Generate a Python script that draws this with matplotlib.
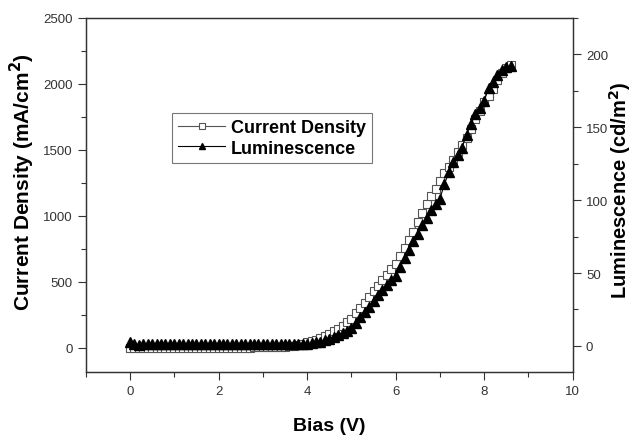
import matplotlib
matplotlib.use("Agg")
import matplotlib.pyplot as plt
from matplotlib.ticker import MultipleLocator

plt.rcParams['font.family'] = ['Liberation Sans', 'DejaVu Sans']

bias = [0.0, 0.1, 0.2, 0.3, 0.4, 0.5, 0.6, 0.7, 0.8, 0.9,
        1.0, 1.1, 1.2, 1.3, 1.4, 1.5, 1.6, 1.7, 1.8, 1.9,
        2.0, 2.1, 2.2, 2.3, 2.4, 2.5, 2.6, 2.7, 2.8, 2.9,
        3.0, 3.1, 3.2, 3.3, 3.4, 3.5, 3.6, 3.7, 3.8, 3.9,
        4.0, 4.1, 4.2, 4.3, 4.4, 4.5, 4.6, 4.7, 4.8, 4.9,
        5.0, 5.1, 5.2, 5.3, 5.4, 5.5, 5.6, 5.7, 5.8, 5.9,
        6.0, 6.1, 6.2, 6.3, 6.4, 6.5, 6.6, 6.7, 6.8, 6.9,
        7.0, 7.1, 7.2, 7.3, 7.4, 7.5, 7.6, 7.7, 7.8, 7.9,
        8.0, 8.1, 8.2, 8.3, 8.4, 8.5, 8.6]

current = [0, 0, 0, 0, 0, 0, 0, 0, 0, 0,
           0, 0, 0, 0, 0, 0, 0, 0, 0, 0,
           0, 0, 0, 0, 1, 1, 1, 1, 2, 2,
           2, 3, 4, 5, 7, 9, 12, 16, 22, 30,
           40, 50, 62, 75, 90, 106, 125, 145, 168, 193,
           220, 260, 300, 340, 385, 430, 470, 515, 555, 595,
           636, 695, 755, 815, 880, 950, 1020, 1090, 1150, 1205,
           1265, 1325, 1370, 1420, 1480, 1540, 1590, 1655, 1730, 1795,
           1860, 1905, 1960, 2030, 2080, 2120, 2140]

lumin = [2.5, 1.5, 0.5, 1.0, 1.5, 1.5, 1.5, 1.5, 1.5, 1.5,
         1.5, 1.5, 1.5, 1.5, 1.5, 1.5, 1.5, 1.5, 1.5, 1.5,
         1.5, 1.5, 1.5, 1.5, 1.5, 1.5, 1.5, 1.5, 1.5, 1.5,
         1.5, 1.5, 1.5, 1.5, 1.5, 1.5, 1.5, 1.5, 1.5, 1.5,
         1.5, 2.0, 2.5, 3.0, 4.0, 5.0, 6.3, 7.5, 9.0, 10.5,
         12, 15.5, 19.5, 23, 27, 31, 35, 38.5, 41.5, 45,
         48, 54, 60, 66, 72, 77, 83, 88, 93, 97,
         101, 111, 119, 126, 131, 136, 145, 152, 159, 163,
         168, 177, 181, 186, 189, 191, 192]

fig = plt.figure(figsize=(6.35, 4.39), dpi=100)
ax = fig.add_axes([0.135, 0.150, 0.767, 0.807])
ax2 = ax.twinx()

l1, = ax.plot(bias, current, color='#555555', lw=0.8, marker='s', ms=5.5,
              mfc='white', mec='#555555', mew=0.8, label='Current Density')
l2, = ax2.plot(bias, lumin, color='black', lw=0.8, marker='^', ms=6.5,
               mfc='black', mec='black', label='Luminescence')

ax.set_xlim(-1, 10)
ax.set_ylim(-185, 2500)
ax2.set_ylim(-18, 225)

ax.xaxis.set_major_locator(MultipleLocator(2))
ax.xaxis.set_minor_locator(MultipleLocator(1))
ax.yaxis.set_major_locator(MultipleLocator(500))
ax.yaxis.set_minor_locator(MultipleLocator(250))
ax2.yaxis.set_major_locator(MultipleLocator(50))
ax2.yaxis.set_minor_locator(MultipleLocator(25))

for a in (ax, ax2):
    a.tick_params(which='major', direction='out', length=6, width=0.8,
                  labelsize=9.5, labelcolor='#333333', color='#333333')
    a.tick_params(which='minor', direction='out', length=3.5, width=0.8,
                  color='#333333')
    for s in a.spines.values():
        s.set_color('#333333')
        s.set_linewidth(0.9)
ax.tick_params(top=False, which='both')

ax.set_xlabel('Bias (V)', fontsize=14, fontweight='bold')
ax.xaxis.set_label_coords(0.5, -0.128)
ax.set_ylabel('Current Density (mA/cm$^\\mathbf{2}$)', fontsize=15,
              fontweight='bold')
ax.yaxis.set_label_coords(-0.10, 0.54)
ax2.set_ylabel('Luminescence (cd/m$^\\mathbf{2}$)', fontsize=14.5,
               fontweight='bold')
ax2.yaxis.set_label_coords(1.07, 0.515)

leg = ax.legend([l1, l2], ['Current Density', 'Luminescence'],
                loc='upper left', bbox_to_anchor=(0.177, 0.732),
                prop={'weight': 'bold', 'size': 13}, frameon=True,
                fancybox=False, edgecolor='#555555', handlelength=2.6,
                handletextpad=0.3, borderpad=0.35, labelspacing=0.2,
                markerscale=0.7, borderaxespad=0)
leg.get_frame().set_linewidth(0.8)

fig.savefig('out.png', dpi=100)
